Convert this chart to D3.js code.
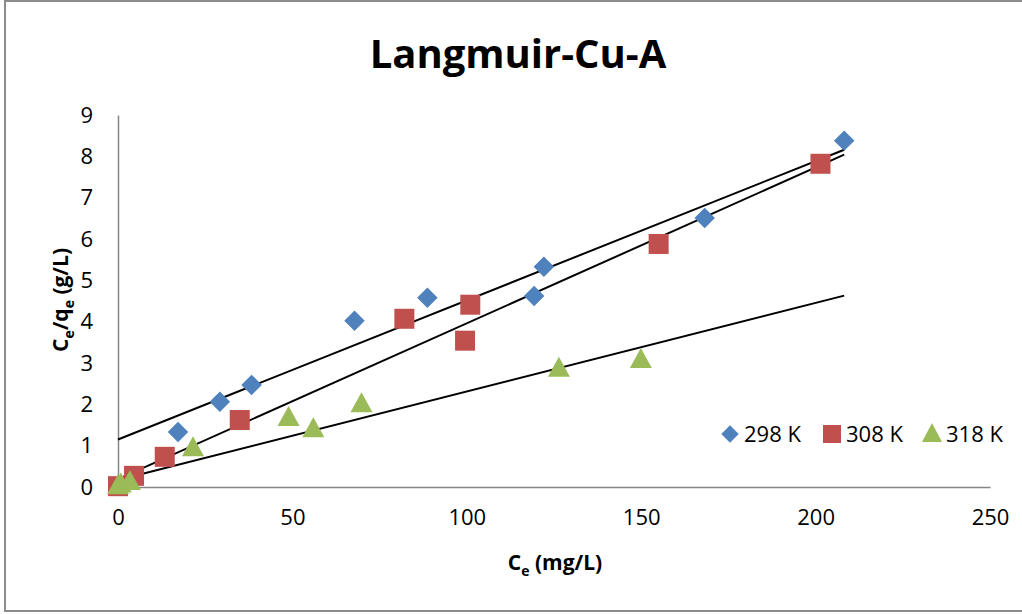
<!DOCTYPE html>
<html lang="en">
<head>
<meta charset="utf-8">
<script src="https://d3js.org/d3.v7.min.js"></script>
<style>
  body { margin: 0; background: white; }
  svg { font-family: 'Open Sans', 'Noto Sans', sans-serif; }
</style>
</head>
<body>
<div id="chart"></div>
<script>
// data
var series = ["298 K", "308 K", "318 K"];
var colors = ["#4F81BD", "#C0504D", "#9BBB59"];

var ce298 = [17.2, 29.2, 38.3, 67.8, 88.7, 119.3, 122.1, 168.2, 208.2];
var q298  = [1.33, 2.06, 2.47, 4.02, 4.58, 4.62, 5.33, 6.51, 8.38];

var ce308 = [0, 4.6, 13.4, 34.9, 82.1, 99.5, 101.0, 155.0, 201.4];
var q308  = [0.02, 0.27, 0.73, 1.62, 4.07, 3.54, 4.41, 5.88, 7.82];

var ce318 = [0, 0.8, 3.4, 21.5, 48.9, 56.0, 69.8, 126.4, 149.9];
var q318  = [0.02, 0.06, 0.12, 0.94, 1.67, 1.40, 2.0, 2.86, 3.07];

// linear trend lines, ends at x = 0 and x = 208.2
var trendX = [0, 208.2];
var trend298 = [1.15, 8.16];
var trend308 = [0.19, 8.04];
var trend318 = [0.17, 4.63];

var xTicks = [0, 50, 100, 150, 200, 250];
var yTicks = [0, 1, 2, 3, 4, 5, 6, 7, 8, 9];

var W = 1022, H = 614;
var FONT = "'Open Sans', 'Noto Sans', sans-serif";
var svg = d3.select("#chart").append("svg")
  .attr("width", W).attr("height", H);

// outer chart border
svg.append("rect")
  .attr("x", 5).attr("y", 1)
  .attr("width", W + 10).attr("height", 610)
  .attr("fill", "white")
  .attr("stroke", "#8c8c8c")
  .attr("stroke-width", 2);

var x = d3.scaleLinear().domain([0, 250]).range([118, 990]);
var y = d3.scaleLinear().domain([0, 9]).range([487, 115]);

function styleAxis(g) {
  g.attr("font-family", FONT).attr("font-size", 22);
  g.select(".domain").attr("stroke", "#868686").attr("stroke-width", 1.5);
  g.selectAll(".tick text").attr("fill", "#000");
}

// axes
svg.append("g")
  .attr("transform", "translate(0," + y(0) + ")")
  .call(d3.axisBottom(x).tickValues(xTicks).tickSize(0).tickPadding(22))
  .call(styleAxis);

svg.append("g")
  .attr("transform", "translate(" + x(0) + ",0)")
  .call(d3.axisLeft(y).tickValues(yTicks).tickSize(0).tickPadding(25))
  .call(styleAxis);

// trend lines
var trends = [trend298, trend308, trend318];
trends.forEach(function(t) {
  svg.append("line")
    .attr("x1", x(trendX[0])).attr("y1", y(t[0]))
    .attr("x2", x(trendX[1])).attr("y2", y(t[1]))
    .attr("stroke", "#000").attr("stroke-width", 2);
});

// markers
var diamond = d3.symbol().type(d3.symbolSquare).size(210);
function drawSeries(cx, cy, i) {
  var g = svg.append("g");
  cx.forEach(function(v, k) {
    var px = x(v), py = y(cy[k]);
    if (i === 0) {
      g.append("path").attr("d", diamond())
        .attr("transform", "translate(" + px + "," + py + ") rotate(45)")
        .attr("fill", colors[0]);
    } else if (i === 1) {
      g.append("rect")
        .attr("x", px - 10).attr("y", py - 10)
        .attr("width", 20).attr("height", 20)
        .attr("fill", colors[1]);
    } else {
      g.append("path")
        .attr("d", "M" + px + "," + (py - 12) + "L" + (px + 11) + "," + (py + 8) + "L" + (px - 11) + "," + (py + 8) + "Z")
        .attr("fill", colors[2]);
    }
  });
}
drawSeries(ce298, q298, 0);
drawSeries(ce308, q308, 1);
drawSeries(ce318, q318, 2);

// legend
var legX = [730, 832, 932];
series.forEach(function(s, i) {
  var lx = legX[i], ly = 434;
  if (i === 0) {
    svg.append("path").attr("d", d3.symbol().type(d3.symbolSquare).size(150)())
      .attr("transform", "translate(" + lx + "," + ly + ") rotate(45)")
      .attr("fill", colors[0]);
  } else if (i === 1) {
    svg.append("rect").attr("x", lx - 9).attr("y", ly - 9)
      .attr("width", 18).attr("height", 18).attr("fill", colors[1]);
  } else {
    svg.append("path")
      .attr("d", "M" + lx + "," + (ly - 11) + "L" + (lx + 10) + "," + (ly + 8) + "L" + (lx - 10) + "," + (ly + 8) + "Z")
      .attr("fill", colors[2]);
  }
  svg.append("text")
    .attr("x", lx + 14).attr("y", ly + 8)
    .attr("font-size", 22)
    .text(s);
});

// title
svg.append("text")
  .attr("x", 518).attr("y", 68)
  .attr("text-anchor", "middle")
  .attr("font-size", 40)
  .attr("font-weight", "bold")
  .text("Langmuir-Cu-A");

// x axis title
var xt = svg.append("text")
  .attr("x", 555).attr("y", 570)
  .attr("text-anchor", "middle")
  .attr("font-size", 21)
  .attr("font-weight", "bold");
xt.append("tspan").text("C");
xt.append("tspan").attr("font-size", 14).attr("dy", 6).text("e");
xt.append("tspan").attr("dy", -6).text(" (mg/L)");

// y axis title
var yt = svg.append("text")
  .attr("transform", "translate(68,300) rotate(-90)")
  .attr("text-anchor", "middle")
  .attr("font-size", 21)
  .attr("font-weight", "bold");
yt.append("tspan").text("C");
yt.append("tspan").attr("font-size", 14).attr("dy", 6).text("e");
yt.append("tspan").attr("dy", -6).text("/q");
yt.append("tspan").attr("font-size", 14).attr("dy", 6).text("e");
yt.append("tspan").attr("dy", -6).text(" (g/L)");
</script>
</body>
</html>
